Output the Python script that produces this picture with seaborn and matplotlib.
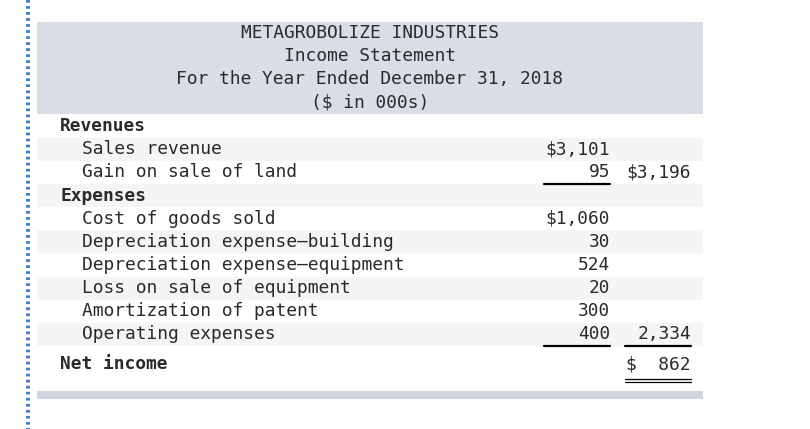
"""
Income statement laid out as a table figure.
"""
import matplotlib.pyplot as plt
import seaborn as sns

# ---------------------------------------------------------
# Statement data
# ---------------------------------------------------------
header_lines = [
    "METAGROBOLIZE INDUSTRIES",
    "Income Statement",
    "For the Year Ended December 31, 2018",
    "($ in 000s)",
]

row_labels = [
    "Revenues", "Sales revenue", "Gain on sale of land",
    "Expenses", "Cost of goods sold", "Depreciation expense\u2014building",
    "Depreciation expense\u2014equipment", "Loss on sale of equipment",
    "Amortization of patent", "Operating expenses",
]
row_is_heading = [True, False, False, True, False, False, False, False, False, False]
item_amounts = ["", "$3,101", "95", "", "$1,060", "30", "524", "20", "300", "400"]
total_amounts = ["", "", "$3,196", "", "", "", "", "", "", "2,334"]
single_rule_under_item = [2, 9]
single_rule_under_total = [9]

net_label = "Net income"
net_amount = "$  862"

# ---------------------------------------------------------
# Figure
# ---------------------------------------------------------
sns.set_style("white")
plt.rcParams["font.family"] = ["DejaVu Sans Mono"]

fig = plt.figure(figsize=(8.1, 4.29), dpi=100)
ax = fig.add_axes([0, 0, 1, 1])
ax.set_xlim(0, 810)
ax.set_ylim(429, 0)
ax.axis("off")

txt = "#2a2a2a"
fs = 12.85
left, right = 37, 703
col1, col2 = 610, 691
row_top, row_h = 114.5, 23.15

# dotted margin line
ax.plot([28, 28], [0, 429], color="#3d7cc9", lw=2.8, linestyle=(0, (0.7, 0.85)))

# header block
ax.fill_between([left, right], 22, 114, color="#d9dde6", lw=0)
for i, line in enumerate(header_lines):
    ax.text(370, 33 + i * 23, line, ha="center", va="center", fontsize=fs, color=txt)

# body rows
for i, label in enumerate(row_labels):
    top = row_top + i * row_h
    yc = top + row_h / 2
    if i % 2 == 1:
        ax.fill_between([left, right], top, top + row_h, color="#f5f5f5", lw=0)
    if row_is_heading[i]:
        ax.text(60, yc, label, ha="left", va="center", fontsize=fs,
                fontweight="bold", color=txt)
    else:
        ax.text(82, yc, label, ha="left", va="center", fontsize=fs, color=txt)
    if item_amounts[i]:
        ax.text(col1, yc, item_amounts[i], ha="right", va="center", fontsize=fs, color=txt)
    if total_amounts[i]:
        ax.text(col2, yc, total_amounts[i], ha="right", va="center", fontsize=fs, color=txt)
    if i in single_rule_under_item:
        ax.plot([544, col1], [top + row_h, top + row_h], color="black", lw=1.6)
    if i in single_rule_under_total:
        ax.plot([625, col2], [top + row_h, top + row_h], color="black", lw=1.6)

# net income line with double underline
ax.text(60, 364, net_label, ha="left", va="center", fontsize=fs, fontweight="bold", color=txt)
ax.text(col2, 364, net_amount, ha="right", va="center", fontsize=fs, color=txt)
ax.plot([625, col2], [379, 379], color="black", lw=0.9)
ax.plot([625, col2], [381.5, 381.5], color="black", lw=0.9)

# bottom bar
ax.fill_between([left, right], 391, 399, color="#cfd5e0", lw=0)

fig.savefig("out.png", dpi=100)
plt.close(fig)
